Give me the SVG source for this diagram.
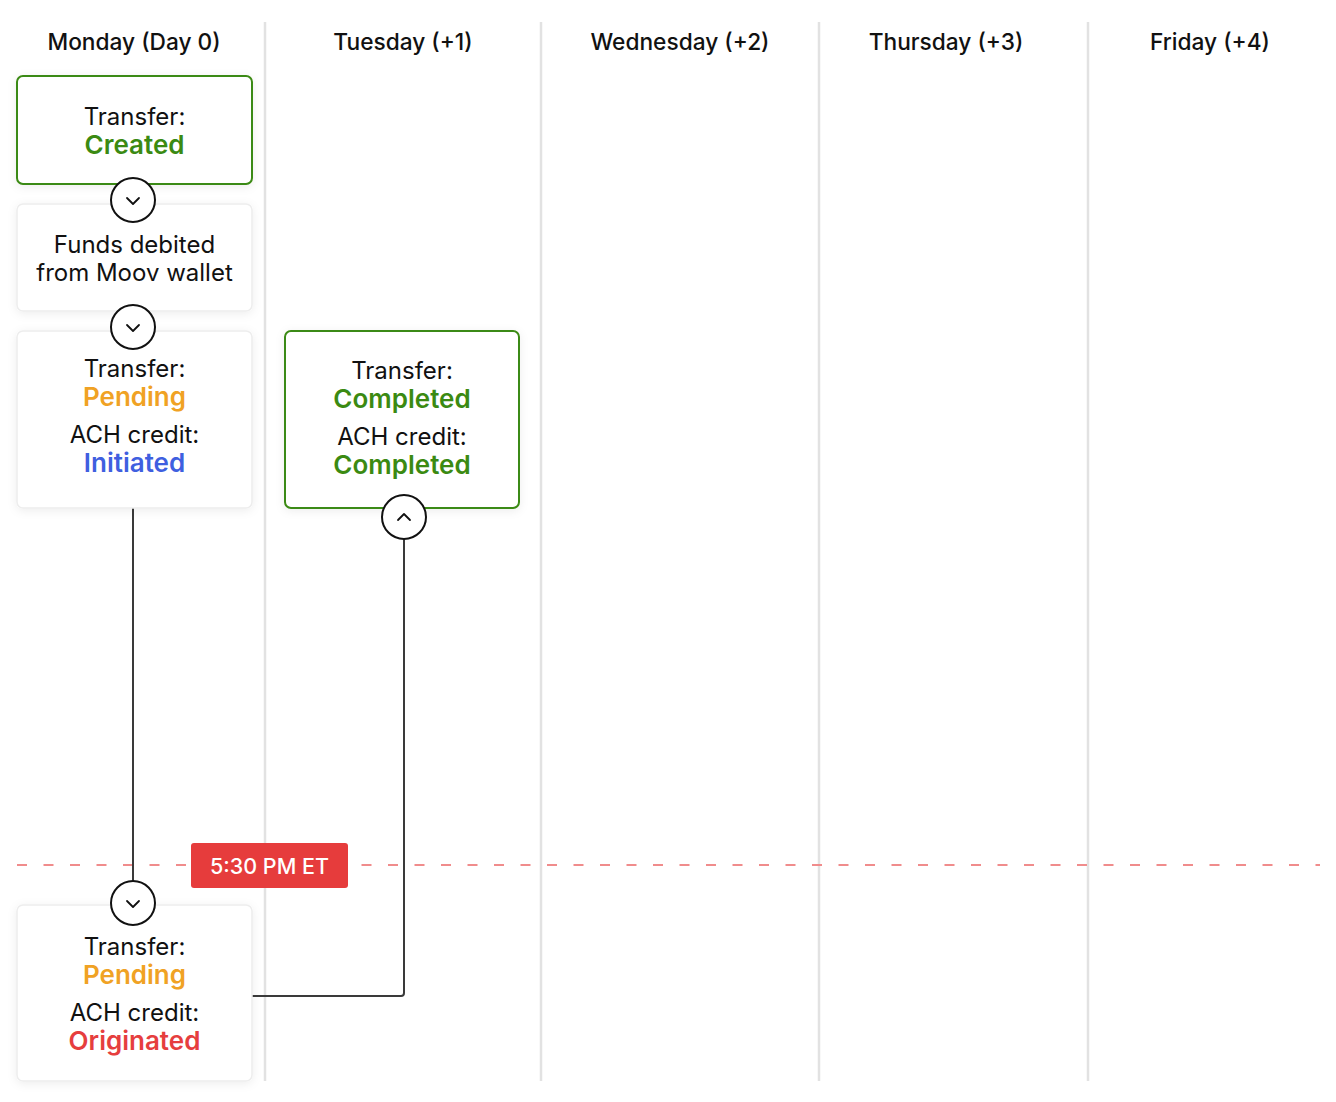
<svg xmlns="http://www.w3.org/2000/svg" width="1336" height="1102" viewBox="0 0 1336 1102">
<defs>
<filter id="sh" x="-20%" y="-20%" width="140%" height="140%">
<feDropShadow dx="0" dy="2" stdDeviation="5" flood-color="#000" flood-opacity="0.07"/>
</filter>
<style>
text{font-family:Inter,"Noto Sans","Liberation Sans",sans-serif;text-anchor:middle;dominant-baseline:central}
.hdr{font-size:22.7px;font-weight:500;fill:#111}
.lbl{font-size:24px;font-weight:400;fill:#111}
.st{font-size:26px;font-weight:600}
.green{fill:#3b8a12}.orange{fill:#f0a224}.blue{fill:#3f5fe0}.red{fill:#e63e3e}
.box{fill:#fff;stroke:#ededed;stroke-width:1.5;filter:url(#sh)}
.gbox{fill:#fff;stroke:#3b8a12;stroke-width:2;filter:url(#sh)}
.div{stroke:#e2e2e2;stroke-width:2.5}
.conn{fill:none;stroke:#3a3a3a;stroke-width:2}
.btn{fill:#fff;stroke:#111;stroke-width:2}
.chev{fill:none;stroke:#111;stroke-width:1.8;stroke-linecap:round;stroke-linejoin:round}
</style>
</defs>
<rect width="1336" height="1102" fill="#fff"/>
<g id="columns">
<line class="div" x1="265" y1="22" x2="265" y2="1081"/>
<line class="div" x1="541" y1="22" x2="541" y2="1081"/>
<line class="div" x1="819" y1="22" x2="819" y2="1081"/>
<line class="div" x1="1088" y1="22" x2="1088" y2="1081"/>
<text class="hdr" x="134" y="41">Monday (Day 0)</text>
<text class="hdr" x="403" y="41">Tuesday (+1)</text>
<text class="hdr" x="680" y="41">Wednesday (+2)</text>
<text class="hdr" x="946" y="41">Thursday (+3)</text>
<text class="hdr" x="1210" y="41">Friday (+4)</text>
</g>
<g id="cutoff">
<line x1="17" y1="865" x2="1320" y2="865" stroke="#f08c8c" stroke-width="2" stroke-dasharray="10 16.5"/>
</g>
<g id="connectors">
<line class="conn" x1="133" y1="508" x2="133" y2="882"/>
<path class="conn" d="M252 996 H401 Q404 996 404 993 V538"/>
</g>
<g id="node-created">
<rect class="gbox" x="17" y="76" width="235" height="108" rx="6"/>
<text class="lbl" x="134.5" y="116">Transfer:</text>
<text class="st green" x="134.5" y="144">Created</text>
</g>
<g id="node-debited">
<rect class="box" x="17" y="204" width="235" height="107" rx="6"/>
<text class="lbl" x="134.5" y="244">Funds debited</text>
<text class="lbl" x="134.5" y="272">from Moov wallet</text>
</g>
<g id="node-pending">
<rect class="box" x="17" y="331" width="235" height="177" rx="6"/>
<text class="lbl" x="134.5" y="368">Transfer:</text>
<text class="st orange" x="134.5" y="396">Pending</text>
<text class="lbl" x="134.5" y="434">ACH credit:</text>
<text class="st blue" x="134.5" y="462">Initiated</text>
</g>
<g id="node-completed">
<rect class="gbox" x="285" y="331" width="234" height="177" rx="6"/>
<text class="lbl" x="402" y="370">Transfer:</text>
<text class="st green" x="402" y="398">Completed</text>
<text class="lbl" x="402" y="436">ACH credit:</text>
<text class="st green" x="402" y="464">Completed</text>
</g>
<g id="node-originated">
<rect class="box" x="17" y="905" width="235" height="176" rx="6"/>
<text class="lbl" x="134.5" y="946">Transfer:</text>
<text class="st orange" x="134.5" y="974">Pending</text>
<text class="lbl" x="134.5" y="1012">ACH credit:</text>
<text class="st red" x="134.5" y="1040">Originated</text>
</g>
<g id="badge">
<rect x="191" y="843" width="157" height="45" rx="3" fill="#e63c3c"/>
<text x="269.5" y="866" style="font-size:21.5px;font-weight:500;fill:#fff">5:30 PM ET</text>
</g>
<g id="buttons">
<circle class="btn" cx="133" cy="200" r="22"/>
<path class="chev" d="M127 198 L133 204 L139 198"/>
<circle class="btn" cx="133" cy="327" r="22"/>
<path class="chev" d="M127 325 L133 331 L139 325"/>
<circle class="btn" cx="133" cy="903" r="22"/>
<path class="chev" d="M127 901 L133 907 L139 901"/>
<circle class="btn" cx="404" cy="517" r="22"/>
<path class="chev" d="M398 520 L404 514 L410 520"/>
</g>
</svg>
